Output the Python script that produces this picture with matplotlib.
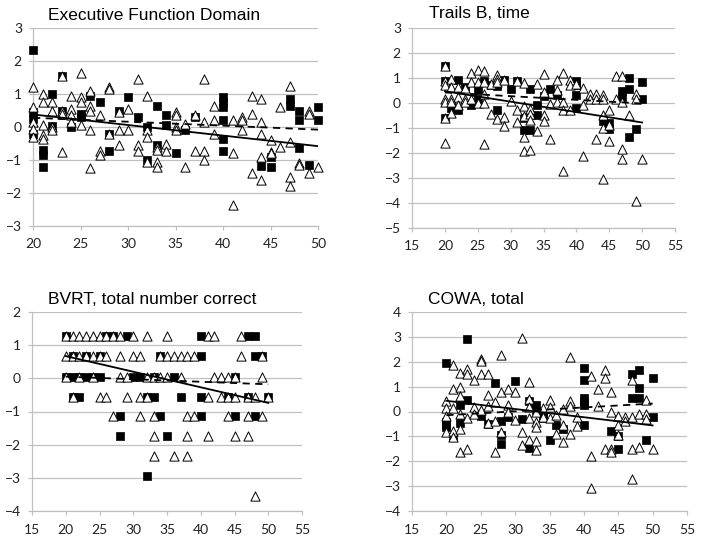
import numpy as np
import matplotlib
matplotlib.use('Agg')
import matplotlib.pyplot as plt

# ---- Executive Function Domain ----
ex_sq_x = [20, 20, 20, 20, 21, 21, 21, 22, 22, 23, 23, 24, 25, 25, 26, 27, 28, 28, 29, 30, 31, 32, 32,
           33, 33, 34, 34, 35, 36, 37, 40, 40, 40, 40, 40, 40, 44, 45, 45, 47, 47, 48, 48, 48, 49, 50, 50]
ex_sq_y = [2.32, 0.45, 0.25, -0.2, -0.7, -0.85, -1.22, 1.0, 0.02, 1.55, 0.5, 0.0, 0.4, 0.3, 0.95, 0.75,
           -0.2, -0.73, 0.5, 0.9, 0.3, 0.0, -1.0, 0.65, -0.55, 0.35, 0.05, -0.8, -0.1, 0.3, 0.9, 0.75,
           0.6, 0.2, -0.35, -0.73, -1.18, -0.9, -1.22, 0.85, 0.65, 0.5, 0.2, -0.65, -1.15, 0.6, 0.2]
ex_tri_x = [20, 20, 20, 20, 20, 21, 21, 21, 21, 21, 22, 22, 22, 22, 23, 23, 23, 23, 24, 24, 24, 24,
            25, 25, 25, 25, 26, 26, 26, 26, 26, 27, 27, 27, 28, 28, 28, 29, 29, 29, 30, 30, 31, 31, 31,
            32, 32, 32, 32, 33, 33, 33, 33, 34, 34, 35, 35, 35, 35, 36, 36, 37, 37, 38, 38, 38, 38,
            39, 39, 39, 41, 41, 41, 42, 42, 42, 43, 43, 43, 44, 44, 44, 44, 44, 45, 45, 45, 46, 46,
            47, 47, 47, 47, 48, 48, 49, 49, 49, 50]
ex_tri_y = [1.2, 0.6, 0.15, -0.05, -0.3, 1.0, 0.75, 0.05, -0.25, -0.35, 0.75, 0.5, 0.0, -0.1,
            1.55, 0.5, 0.4, -0.75, 0.95, 0.55, 0.35, 0.15, 1.65, 0.9, 0.75, 0.05, 1.1, 0.65, 0.5, -0.1,
            -1.25, 0.35, -0.72, -0.85, 1.2, 1.15, -0.2, 0.45, -0.1, -0.55, 0.55, -0.1, 1.45, -0.55,
            -0.72, 0.95, -0.1, -0.3, -1.05, -0.6, -0.7, -1.05, -1.2, -0.5, -0.72, 0.45, 0.35, 0.0,
            -0.1, 0.1, -1.2, 0.35, -0.72, 1.45, 0.15, -0.72, -1.0, 0.65, 0.2, -0.2, 0.2, -0.8, -2.35,
            0.3, 0.2, -0.1, 0.95, 0.4, -1.4, 0.85, 0.15, -0.2, -0.9, -1.6, -0.4, -0.75, -0.8, 0.6,
            -0.6, 1.25, -0.45, -1.5, -1.8, -1.1, -1.15, 0.5, 0.4, -1.4, -1.2]
ex_fit_x = [20, 50]
ex_fit_solid = [0.38, -0.58]
ex_fit_dash = [0.28, -0.08]

# ---- Trails B, time ----
tb_sq_x = [20, 20, 20, 21, 22, 22, 23, 24, 25, 25, 26, 27, 28, 28, 29, 30, 31, 32, 32, 33, 33, 34, 34,
           35, 36, 37, 40, 40, 40, 40, 44, 45, 45, 47, 47, 48, 48, 48, 49, 50, 50]
tb_sq_y = [1.47, 0.87, -0.59, -0.2, 0.91, -0.29, 0.64, -0.09, 0.51, 0.17, 0.88, 0.71, 0.67, -0.29,
           0.93, 0.55, 0.87, -0.59, -1.09, 0.57, -1.09, -0.09, -0.47, 0.27, 0.55, 0.33, 0.88, 0.71,
           0.31, -0.2, -0.72, -0.79, -1.03, 0.47, 0.24, 1.0, 0.55, -1.36, -1.05, 0.84, 0.15]
tb_tri_x = [20, 20, 20, 20, 20, 20, 20, 21, 21, 21, 21, 21, 22, 22, 22, 23, 23, 23, 24, 24, 24,
            25, 25, 25, 26, 26, 26, 26, 26, 27, 27, 28, 28, 28, 28, 29, 29, 29, 30, 31, 31, 31,
            32, 32, 32, 32, 32, 33, 33, 33, 33, 34, 34, 35, 35, 35, 35, 36, 36, 37, 37, 37,
            38, 38, 38, 38, 39, 39, 39, 40, 41, 41, 41, 42, 42, 43, 43, 43, 44, 44, 44, 44, 44,
            45, 45, 45, 46, 46, 47, 47, 47, 47, 48, 49, 49, 49, 50]
tb_tri_y = [1.47, 0.87, 0.73, 0.17, 0.04, -0.59, -1.59, 0.97, 0.64, 0.15, 0.04, -0.39, 0.64, 0.24,
            -0.07, 0.6, 0.15, 0.04, 1.21, 0.84, 0.15, 1.33, 0.84, -0.01, 1.3, 0.84, 0.37, -0.01,
            -1.63, 0.77, -0.43, 1.13, 0.97, 0.84, -0.62, 0.93, -0.56, -0.9, 0.07, 0.87, -0.29,
            -0.76, 0.8, -0.12, -0.53, -1.36, -1.93, -0.25, -0.45, -0.68, -1.87, 0.77, -1.12, 1.15,
            0.44, -0.49, -0.72, -0.03, -1.43, 0.91, 0.51, 0.05, 1.2, 0.05, -0.29, -2.72, 0.93, 0.71,
            -0.29, 0.77, 0.6, -0.09, -2.1, 0.37, 0.15, 0.37, 0.15, -1.43, 0.31, 0.15, -0.49, -0.99,
            -3.03, -0.29, -0.89, -1.53, 1.1, 0.15, 1.1, 0.04, -1.85, -2.25, -0.49, 0.37, 0.15,
            -3.92, -2.25]
tb_fit_x = [20, 50]
tb_fit_solid = [0.47, -0.78]
tb_fit_dash = [0.42, -0.02]

# ---- BVRT, total number correct ----
bv_sq_x = [20, 26, 27, 29, 40, 47, 48,
           21, 23, 25, 34, 40, 48, 49,
           20, 21, 22, 23, 24, 25, 30, 31, 33, 36, 45,
           21, 22, 32, 33, 37, 40, 44, 47, 50,
           28, 34, 40, 45, 48,
           28, 35,
           32]
bv_sq_y = [1.27] * 7 + [0.66] * 7 + [0.05] * 11 + [-0.55] * 9 + [-1.15] * 5 + [-1.75] * 2 + [-2.95]
bv_tri_x = [20, 21, 22, 23, 24, 25, 26, 27, 28, 30, 32, 35, 41, 42, 46,
            20, 21, 22, 23, 24, 25, 26, 28, 30, 31, 34, 35, 36, 37, 38, 39, 46, 49,
            20, 22, 24, 28, 29, 32, 33, 34, 35, 37, 42, 43, 44, 45, 49,
            21, 25, 26, 29, 31, 32, 41, 43, 44, 45, 47, 48, 50,
            27, 31, 33, 38, 39, 44, 47, 49,
            33, 38, 41, 45, 47,
            33, 36, 38,
            48]
bv_tri_y = ([1.27] * 15 + [0.66] * 18 + [0.05] * 15 + [-0.55] * 13 + [-1.15] * 8
            + [-1.75] * 5 + [-2.35] * 3 + [-3.55])
bv_fit_x = [20, 50]
bv_fit_solid = [0.67, -0.74]
bv_fit_dash = [0.05, -0.18]

# ---- COWA, total ----
cw_sq_x = [20, 20, 20, 20, 21, 22, 22, 23, 23, 25, 26, 27, 28, 28, 28, 29, 30, 31, 32, 32, 33, 33,
           34, 34, 35, 36, 37, 40, 40, 40, 40, 40, 40, 44, 45, 45, 47, 47, 48, 48, 48, 49, 50, 50]
cw_sq_y = [1.96, -0.42, -0.55, -0.62, -1.02, 0.25, -0.46, 2.91, 0.48, -0.19, -0.51, 1.13, -0.38,
           -0.95, -1.31, -0.21, 1.22, -0.31, 0.43, -1.46, 0.25, 0.05, -0.08, -0.28, -1.15, -0.55,
           -0.7, 1.73, 1.26, 0.56, 0.39, 0.25, -0.55, -0.78, -0.99, -1.49, 1.49, 0.56, 1.66, 0.94,
           0.56, -1.15, 1.33, -0.21]
cw_tri_x = [20, 20, 20, 20, 21, 21, 21, 21, 21, 22, 22, 22, 22, 22, 22, 23, 23, 23, 23, 24, 24, 24,
            25, 25, 25, 25, 26, 26, 26, 26, 27, 27, 27, 28, 28, 28, 29, 29, 29, 30, 30, 31, 31, 31,
            32, 32, 32, 32, 32, 33, 33, 33, 33, 33, 34, 34, 35, 35, 35, 36, 36, 37, 37, 37,
            38, 38, 38, 38, 39, 39, 41, 41, 41, 42, 42, 43, 43, 43, 44, 44, 44, 44, 45, 45, 45,
            46, 46, 47, 47, 47, 47, 48, 48, 49, 49, 49, 50]
cw_tri_y = [0.43, 0.16, -0.17, -0.82, 1.86, 0.92, 0.16, -0.78, -1.02, 1.55, 0.99, 0.62, -0.11,
            -0.72, -1.62, 1.72, 1.49, -0.25, -1.49, 1.26, 0.19, -0.11, 2.13, 2.04, 1.49, 0.08,
            1.49, 0.67, 0.21, -0.48, 0.39, -0.38, -1.62, 2.27, 0.79, -0.82, 0.9, 0.25, -0.01, 0.79,
            -0.35, 2.94, -0.82, -1.35, 1.19, 0.52, 0.19, -0.28, -1.15, -0.01, -0.42, -0.62, -1.18,
            -1.55, 0.16, -0.21, 0.48, 0.19, -0.28, -0.15, -0.91, 0.12, -0.56, -1.22, 2.2, 0.43, 0.21,
            -0.91, -0.21, -0.59, 1.42, -1.8, -3.06, 0.92, 0.21, 1.66, 1.33, -1.49, 0.79, -0.01,
            -1.49, -1.62, -0.17, -0.55, -0.95, -0.21, -0.38, 1.26, -0.21, -1.49, -2.73, -0.11,
            -1.42, 0.46, -0.11, -0.31, -1.49]
cw_fit_x = [20, 50]
cw_fit_solid = [0.43, -0.56]
cw_fit_dash = [-0.15, 0.32]

tick_font = 'Lato'
title_font = 'Liberation Sans'
grid_col = '#c0c0c0'

fig = plt.figure(figsize=(7.01, 5.43), dpi=100)

panels = [
    # rect (px), title, title pos (px), data, xlim, xticks, ylim
    ([33, 28, 318, 226], 'Executive Function Domain', (48, 15),
     (ex_sq_x, ex_sq_y, ex_tri_x, ex_tri_y, ex_fit_x, ex_fit_solid, ex_fit_dash),
     (20, 50), range(20, 51, 5), (-3, 3)),
    ([412, 28, 675, 228], 'Trails B, time', (429, 14),
     (tb_sq_x, tb_sq_y, tb_tri_x, tb_tri_y, tb_fit_x, tb_fit_solid, tb_fit_dash),
     (15, 55), range(15, 56, 5), (-5, 3)),
    ([32, 312, 302, 511], 'BVRT, total number correct', (48, 299),
     (bv_sq_x, bv_sq_y, bv_tri_x, bv_tri_y, bv_fit_x, bv_fit_solid, bv_fit_dash),
     (15, 55), range(15, 56, 5), (-4, 2)),
    ([412, 312, 687, 511], 'COWA, total', (428, 299),
     (cw_sq_x, cw_sq_y, cw_tri_x, cw_tri_y, cw_fit_x, cw_fit_solid, cw_fit_dash),
     (15, 55), range(15, 56, 5), (-4, 4)),
]

W, H = 701, 543
for rect, title, tpos, data, xlim, xticks, ylim in panels:
    x0, y0, x1, y1 = rect
    ax = fig.add_axes([x0 / W, 1 - y1 / H, (x1 - x0) / W, (y1 - y0) / H])
    sq_x, sq_y, tri_x, tri_y, fx, fs, fd = data

    ax.scatter(sq_x, sq_y, marker='s', s=36, c='black', edgecolors='black', linewidths=0.5,
               zorder=3, clip_on=False)
    ax.scatter(tri_x, tri_y, marker='^', s=44, c='white', edgecolors='black', linewidths=0.7,
               zorder=4, clip_on=False)
    ax.plot(fx, fs, color='black', lw=1.3, zorder=5)
    ax.plot(fx, fd, color='black', lw=1.3, ls=(0, (4, 3)), zorder=5)

    ax.set_xlim(*xlim)
    ax.set_ylim(*ylim)
    ax.set_xticks(list(xticks))
    ax.set_yticks(range(ylim[0], ylim[1] + 1))
    ax.grid(axis='y', color=grid_col, lw=0.9)
    ax.set_axisbelow(True)
    for s in ['top', 'right']:
        ax.spines[s].set_visible(False)
    for s in ['left', 'bottom']:
        ax.spines[s].set_color(grid_col)
        ax.spines[s].set_linewidth(0.9)
    ax.tick_params(axis='both', colors=grid_col, length=3, width=0.9, labelcolor='#222222',
                   labelsize=10)
    ax.tick_params(axis='x', pad=6)
    ax.tick_params(axis='y', pad=5)
    for lab in ax.get_xticklabels() + ax.get_yticklabels():
        lab.set_fontfamily(tick_font)

    fig.text(tpos[0] / W, 1 - tpos[1] / H, title, fontsize=12.5, family=title_font,
             va='center', ha='left')

fig.savefig('out.png', dpi=100)
